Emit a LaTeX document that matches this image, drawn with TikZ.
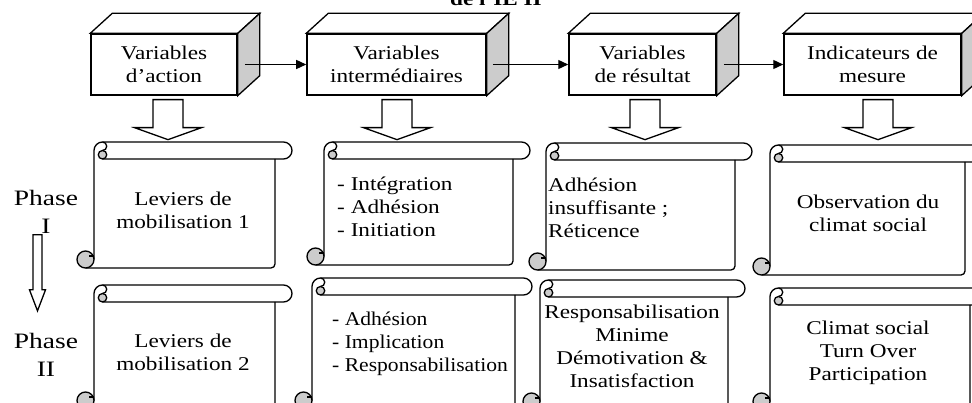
\documentclass[tikz,border=0pt]{standalone}
\usepackage{fontspec}
\setmainfont{Liberation Serif}
\usetikzlibrary{calc,arrows.meta}
\definecolor{shadegray}{gray}{0.8}
\tikzset{
  boxline/.style={line width=1.3pt, line join=miter},
  flow/.style={line width=1.3pt, -{Triangle[length=10pt,width=9pt]}},
  txt/.style={font=\fontsize{19.5}{23}\selectfont, xscale=1.19, inner sep=0pt},
  cubebox/.style={draw, fill=white, line width=1.3pt, txt, align=center, minimum height=61pt},
  phasetxt/.style={font=\fontsize{22}{28}\selectfont, xscale=1.25, inner sep=0pt, align=center}
}
\begin{document}
\begin{tikzpicture}[x=1pt,y=-1pt]
\useasboundingbox (0,0) rectangle (972,403);
\def\cube#1{% top and side of a box
 \draw[boxline, fill=white] (#1.north west) -- ++(22,-20) -- ($(#1.north east)+(22,-20)$) -- (#1.north east) -- cycle;
 \draw[boxline, fill=shadegray] (#1.north east) -- ++(22,-20) -- ($(#1.south east)+(22,-20)$) -- (#1.south east) -- cycle;
}
\def\blockdown#1#2{% hollow arrow under a box
 \draw[boxline, fill=white] ([xshift=#2pt,yshift=-4pt]#1.south) -- ++(-15,0) -- ++(0,28) -- ++(-18.5,0) -- ++(33.5,12) -- ++(33.5,-12) -- ++(-18.5,0) -- ++(0,-28) -- cycle;
}
\def\scroll#1#2#3#4{% left, top, right, bottom
 \draw[boxline] ({#1+17},{#4-8.5}) -- ({#1+17},{#2+8.5}) arc[start angle=180,end angle=270,radius=8.5] -- ({#3-8.5},#2) arc[start angle=-90,end angle=90,radius=8.5] -- ({#1+25.5},{#2+17});
 \draw[boxline] ({#1+25.5},#2) arc[start angle=-90,end angle=90,radius=4.25];
 \draw[boxline, fill=shadegray] ({#1+25.5},{#2+12.75}) circle[radius=4.25];
 \draw[boxline, rounded corners=4pt] ({#3-17},{#2+17}) -- ({#3-17},#4) -- ({#1+8.5},#4);
 \draw[boxline, fill=shadegray] ({#1+8.5},{#4-8.5}) circle[radius=8.5];
 \draw[boxline] ({#1+17},{#4-12}) -- ({#1+11.5},{#4-12});
}

\node[font=\fontsize{19.5}{23}\selectfont\bfseries, xscale=1.19, anchor=base] (title) at (496,6) {de l’IE II};

% the four boxes
\node[cubebox, minimum width=122.7pt] (v1) at (164,64.5) {Variables\\d’action};
\node[cubebox, minimum width=150.4pt] (v2) at (396.5,64.5) {Variables\\intermédiaires};
\node[cubebox, minimum width=123.5pt] (v3) at (642.5,64.5) {Variables\\de résultat};
\node[cubebox, minimum width=148.7pt] (v4) at (872.5,64.5) {Indicateurs de\\mesure};
\cube{v1} \cube{v2} \cube{v3} \cube{v4}

\draw[flow] ([xshift=7pt]v1.east) -- (v2.west);
\draw[flow] ([xshift=6pt]v2.east) -- (v3.west);
\draw[flow] ([xshift=7pt]v3.east) -- (v4.west);

\blockdown{v1}{4} \blockdown{v2}{0.5} \blockdown{v3}{2.5} \blockdown{v4}{5.5}

% phase I
\scroll{77}{142}{292}{268}
\scroll{307}{142}{530}{265}
\scroll{529}{143}{752}{270}
\scroll{753}{145}{982}{275}
\node[txt, align=center] (l1) at (183,210.5) {Leviers de\\mobilisation 1};
\node[txt, align=left, anchor=west] (i1) at (337,206.5) {- Intégration\\- Adhésion\\- Initiation};
\node[txt, align=left, anchor=west] (r1) at (548,207.5) {Adhésion\\insuffisante ;\\Réticence};
\node[txt, align=center] (m1) at (868,213.5) {Observation du\\climat social};

% phase II
\scroll{77}{285}{292}{409}
\scroll{295}{278}{532}{409}
\scroll{523}{280}{745}{410}
\scroll{753}{288}{987}{410}
\node[txt, align=center] (l2) at (183,352.5) {Leviers de\\mobilisation 2};
\node[txt, xscale=0.93, align=left, anchor=west] (i2) at (332,343.5) {- Adhésion\\- Implication\\- Responsabilisation};
\node[txt, align=center] (r2) at (632,346.5) {Responsabilisation\\Minime\\Démotivation \&\\Insatisfaction};
\node[txt, align=center] (m2) at (868,352.5) {Climat social\\Turn Over\\Participation};

\node[phasetxt] (p1) at (46,212) {Phase\\I};
\node[phasetxt] (p2) at (46,355) {Phase\\II};
\draw[boxline, fill=white] ([xshift=-8.5pt,yshift=-1pt]p1.south) -- ++(-4.5,0) -- ++(0,55) -- ++(-3.5,0) -- ++(8,21) -- ++(8,-21) -- ++(-3.5,0) -- ++(0,-55) -- cycle;
\end{tikzpicture}
\end{document}
